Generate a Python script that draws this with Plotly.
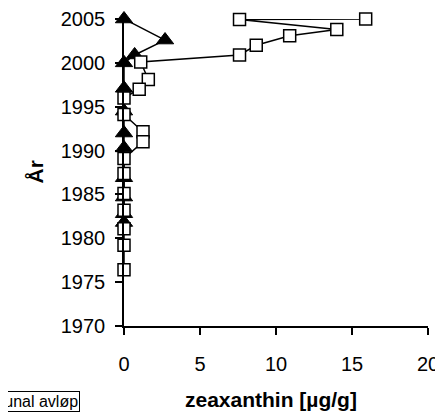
import plotly.graph_objects as go

# Square series (open squares)
sq_x = [15.9, 7.6, 14.0, 10.9, 8.7, 7.6, 1.1, 1.6, 1.0, 0.0, 0.0, 1.25, 1.25, 0.0, 0.0, 0.0, 0.0, 0.0, 0.0, 0.0]
sq_y = [2005.0, 2004.95, 2003.8, 2003.1, 2002.0, 2000.9, 2000.1, 1998.1, 1997.0, 1996.0, 1994.1, 1992.15, 1991.0, 1989.1, 1987.4, 1985.1, 1983.2, 1981.1, 1979.2, 1976.4]

# Triangle series (filled triangles)
tr_x = [0.0, 2.7, 0.7, 0.0, 0.0, 0.0, 0.0, 0.0, 0.0, 0.0, 0.0, 0.0]
tr_y = [2005.0, 2002.6, 2000.9, 2000.0, 1997.1, 1994.5, 1992.0, 1990.3, 1986.9, 1984.7, 1982.8, 1981.8]

x_ticks = [0, 5, 10, 15, 20]
y_ticks = [1970, 1975, 1980, 1985, 1990, 1995, 2000, 2005]

FONT = "Liberation Sans, Arial, sans-serif"

fig = go.Figure()
fig.add_trace(go.Scatter(
    x=tr_x, y=tr_y, mode="lines+markers", name="tri",
    line=dict(color="black", width=1.5),
    marker=dict(symbol="triangle-up", size=15, color="black",
                line=dict(color="black", width=1)),
    cliponaxis=False, showlegend=False))
fig.add_trace(go.Scatter(
    x=sq_x, y=sq_y, mode="lines+markers", name="Kommunal avløp",
    line=dict(color="black", width=1.5),
    marker=dict(symbol="square", size=12, color="white",
                line=dict(color="black", width=1.5)),
    cliponaxis=False, showlegend=False))

fig.update_layout(
    width=435, height=409,
    margin=dict(l=116, r=15, t=11, b=91),
    paper_bgcolor="white", plot_bgcolor="white",
    font=dict(family=FONT, size=20, color="black"),
    xaxis=dict(range=[0, 20], tickvals=x_ticks, showgrid=False, zeroline=False,
               showline=True, linecolor="black", linewidth=1.5, automargin=False,
               ticks="outside", ticklen=7, tickwidth=1.5, tickcolor="black",
               ticklabelstandoff=12, tickfont=dict(size=20)),
    yaxis=dict(range=[1970, 2005], tickvals=y_ticks, showgrid=False, zeroline=False,
               showline=True, linecolor="black", linewidth=1.5, automargin=False,
               ticks="outside", ticklen=7, tickwidth=1.5, tickcolor="black",
               ticklabelstandoff=6, tickfont=dict(size=20)),
    annotations=[
        dict(text="<b>zeaxanthin [µg/g]</b>", xref="paper", yref="paper",
             x=(271 - 124) / 304, y=(326 - 399) / 307, xanchor="center", yanchor="middle",
             showarrow=False, font=dict(size=21, family=FONT)),
        dict(text="<b>År</b>", xref="paper", yref="paper",
             x=(35 - 124) / 304, y=0.5, xanchor="center", yanchor="middle",
             textangle=-90, showarrow=False, font=dict(size=21, family=FONT)),
        dict(text="Kommunal avløp", xref="paper", yref="paper",
             x=(80 - 124) / 304, y=(326 - 391) / 307, xanchor="right", yanchor="top",
             showarrow=False, bordercolor="black", borderwidth=1, borderpad=1,
             bgcolor="white", font=dict(size=16, family=FONT)),
    ],
)

fig.write_html("out.html")
